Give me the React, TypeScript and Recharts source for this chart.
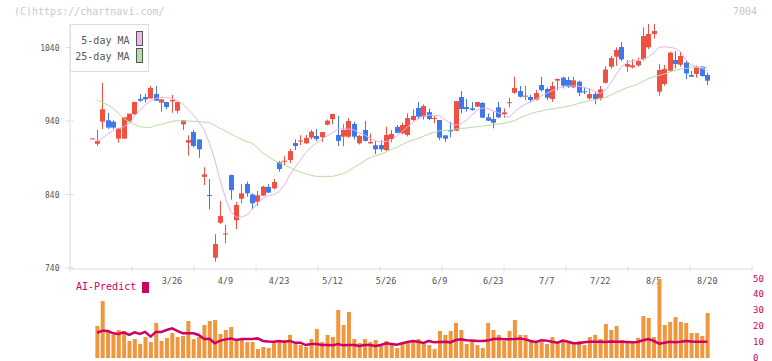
import React from "react";
import { ComposedChart, Bar, Line, XAxis, YAxis } from "recharts";

// ---------- data ----------
const opens = [916, 909, 939, 941, 939, 916, 916, 939, 949.5, 970, 972.7, 970.8, 976.7, 965, 965.8, 966.8, 954, 935.5, 910.5, 925, 915, 864, 839.3, 754, 801.7, 786, 866.5, 805, 834.3, 854.3, 840, 830, 838.4, 850.3, 848.4, 884, 885.5, 887, 910, 913, 909.6, 917.4, 919.6, 918, 935, 942.7, 921, 918.7, 918.7, 936, 909.6, 927.8, 909.6, 907, 907.3, 900.5, 915.5, 932, 923.2, 921, 941.4, 957.7, 946, 952, 943.6, 941.4, 920.5, 927.8, 926.8, 972.7, 959, 957.2, 959.5, 964.5, 945, 942.7, 958.6, 949.5, 965, 978.5, 980.8, 974, 972.7, 969, 989, 983.5, 970, 994.9, 999, 995.8, 985.8, 993.5, 980.4, 970.8, 976.7, 970.8, 992, 1013.9, 1027.5, 1040.7, 1013.9, 1013, 1015.7, 1024, 1040.2, 1058.4, 979.9, 990.3, 1008.5, 1023, 1016.6, 1019.4, 1002.6, 1004, 1014, 1002.6];
const highs = [916.6, 928, 992, 951, 941, 930, 945, 950, 966, 976.7, 976.7, 987.6, 987.6, 969.5, 966, 975.4, 966, 941, 920.5, 928, 915, 877, 861, 786, 831, 798.5, 867, 829.8, 854.3, 857.5, 841.6, 844.8, 852, 854, 861, 885.6, 892, 902, 915, 920.5, 921, 928, 929, 925, 942, 950, 946.8, 935.5, 944, 939, 921, 940, 923, 913, 914, 932.2, 927.8, 934.5, 937.7, 950.4, 956, 965.8, 962.7, 956.8, 946.8, 941.4, 920.5, 938.6, 967, 980.8, 970, 965.8, 966, 966, 950.4, 952.7, 966, 957.2, 971.7, 1000, 987.6, 987.6, 975.4, 982, 1000, 985.8, 993.5, 998, 1000.3, 1000.3, 1000, 995, 985.8, 984, 979.9, 987.6, 1014.8, 1028.4, 1040.2, 1047.5, 1023, 1024, 1026.2, 1067.4, 1072, 1072, 1017.5, 1016.2, 1034.3, 1035.2, 1034.3, 1023, 1008, 1015.3, 1014.8, 1005.8];
const lows = [915.6, 906, 929, 929, 929, 910.5, 916, 937, 948, 966, 965, 970, 967, 952.7, 956, 951.3, 950.4, 927.8, 892.8, 904, 890, 853, 820, 748.6, 800, 773.6, 833, 793, 828, 837, 819.8, 824, 838, 842, 847, 871, 880, 883, 900.5, 907, 909, 915, 912.8, 911.5, 934, 935.5, 906, 905.5, 917, 915, 908, 912, 909, 895, 898.5, 899, 911, 923, 922, 919, 940, 943, 942, 941, 937, 914, 911.5, 917.8, 926, 950.4, 952.7, 954, 959, 944, 940, 930, 944, 944.5, 958.6, 977, 972, 968.6, 965.4, 968, 980, 968.6, 966.3, 982, 984.4, 985, 985, 974, 976.7, 969, 962.7, 968, 991, 1011, 1015, 1021.6, 1007, 1011.6, 1014, 1022, 1038, 1052, 974.5, 988, 1007, 1011.6, 1014, 997, 1000, 999, 1000.3, 989];
const closes = [916.3, 913, 956, 931, 931, 930, 945, 950, 966, 967.7, 969.5, 985, 967.7, 969.5, 959, 968.6, 965.8, 941, 914, 906, 901.5, 867.4, 838, 772.6, 810.7, 787, 846, 825.7, 841.6, 841.6, 828, 839, 850.7, 842.6, 857, 874.7, 886, 899, 906, 913.5, 917, 925.5, 915.5, 925, 940.5, 949.5, 913, 927.8, 940, 918.7, 919.6, 913, 911.4, 901.5, 901.5, 921, 922.3, 924, 934.5, 944, 946.8, 946, 960.4, 942.7, 944, 917.3, 916, 926, 967, 956.3, 956.3, 955, 965.8, 944.5, 940.4, 937.7, 945, 951.8, 965.6, 984.9, 973, 974.5, 968.6, 978, 982, 971.7, 987.6, 997.2, 988, 986.7, 995.4, 978.5, 979.5, 976.7, 969.9, 983, 1010, 1025.7, 1036.6, 1023.9, 1017.5, 1015.7, 1021.6, 1055.6, 1058.4, 1062.4, 1009.4, 1010.7, 1033, 1017.5, 1028.4, 1004.8, 1000.3, 1014, 1001.2, 994.9];
const ma5 = [null, 911.9, 916.4, 922.3, 926.8, 930, 932.3, 936.8, 946, 955, 961.8, 967.2, 970.8, 972.2, 972.2, 970.8, 967.7, 963, 955.9, 948, 939, 927.8, 909.6, 887, 859.7, 834.8, 816.6, 809, 809.4, 812, 819.8, 829, 834.8, 838, 839.8, 843.9, 852.9, 866.5, 877, 887, 897, 904.2, 910.5, 915, 919.6, 924, 928.7, 929.6, 929, 927.8, 924, 921, 916.4, 913.2, 911.4, 912.3, 914, 919.6, 925.5, 932.3, 937.7, 942.7, 946.8, 948, 947.7, 946.8, 941.4, 936.8, 934.5, 936, 941.4, 948, 955, 957.7, 957.2, 954, 951.3, 948, 945, 952.7, 958.6, 962.7, 966.3, 969.5, 974, 977.6, 981.3, 984.4, 986.7, 987.6, 987.6, 987.2, 985.8, 983.5, 980.4, 977.6, 982.2, 992.2, 1004, 1014, 1019.4, 1022, 1023, 1023.9, 1027.5, 1033, 1040.2, 1041, 1040.2, 1038.9, 1034.3, 1023, 1016.2, 1014, 1011.6, 1008.5];
const ma25 = [null, 968.6, 965, 961.8, 957.2, 950.4, 943.6, 939, 935.5, 932.3, 931.4, 931.4, 933.9, 935.5, 937.7, 939.5, 940.4, 940, 940, 939.5, 939, 938.6, 937.7, 934, 930, 926.4, 922.3, 918.7, 915, 911.9, 909.6, 903, 896.5, 891.5, 887, 883.3, 880, 877, 873.3, 870.6, 868.3, 866, 864.7, 864.7, 864.7, 864.7, 866.5, 868.3, 872, 877, 881, 886, 890, 892.8, 895, 897.8, 901.5, 904.2, 907.8, 911.4, 914, 916.4, 919.1, 922.3, 924.6, 926.8, 927.3, 927.8, 929, 930, 930.4, 931.4, 932.3, 933.2, 934, 935, 936, 936.8, 938.6, 940.4, 944.5, 947.3, 950, 952.2, 953.6, 955.4, 956.3, 957.7, 959, 960, 961.8, 964, 965.8, 967.7, 969, 970.4, 972.2, 975.4, 979, 982.2, 985.4, 987.6, 990.3, 994, 997.6, 1000.3, 1002, 1004, 1006.7, 1009, 1010.7, 1011.6, 1012.6, 1013, 1013, 1013];
const volume = [null, 20.3, 36, 16.7, 14.6, 17.7, 17.1, 10.8, 12, 8.9, 13.3, 10.1, 22.2, 10.8, 12.7, 15.8, 13.3, 13.9, 23.4, 12, 13.3, 20.9, 23.4, 24, 15.2, 17.7, 19.6, 10.8, 12, 10.1, 10.1, 5.7, 7, 6.3, 10.1, 10.8, 11.4, 14.6, 8.9, 8.2, 7, 12, 18.4, 10.1, 14.6, 13.3, 30.4, 20.9, 29.1, 12, 9.5, 12, 10.1, 11.4, 7.6, 10.8, 8.9, 6.3, 8.9, 10.1, 10.8, 12, 8.9, 8.2, 5.7, 17.1, 14.6, 17.1, 22.2, 17.7, 8.9, 10.8, 8.2, 6.3, 22.2, 17.7, 14.6, 10.8, 17.1, 24, 14.6, 14.6, 10.8, 10.1, 10.1, 8.9, 13.3, 9.5, 10.8, 9.5, 10.1, 10.8, 8.2, 13.3, 14.6, 12, 21.5, 17.7, 20.3, 11.4, 10.8, 10.1, 12.7, 26.6, 25.3, 13.3, 50, 20.9, 22.8, 25.9, 22.8, 22.2, 15.8, 15.8, 13.9, 28.5];
const aiPredict = [null, 16, 17.3, 17.1, 15.6, 15.2, 16.2, 14.6, 16.2, 15.2, 16.5, 13.5, 16.5, 16.5, 17.7, 18.8, 17.1, 15.6, 15.6, 15.6, 14.6, 12, 12.2, 9.3, 11, 11.8, 12.4, 11.4, 12, 12, 12, 12.4, 10.8, 10.5, 10.3, 10.8, 10.3, 10.8, 9.7, 9.7, 8.2, 8.9, 8.9, 8.2, 8.2, 8, 8.9, 8, 8.2, 8.2, 7.6, 8.2, 8.2, 7.6, 8.2, 9.3, 8.9, 8.4, 9.3, 10.1, 10.8, 10.3, 9.5, 10.8, 9.9, 10.1, 10.3, 9.9, 11.4, 11.8, 11.2, 11, 10.8, 10.8, 11, 12, 12.2, 11.8, 11.8, 12, 12.4, 11.8, 10.8, 10.1, 11.2, 11, 10.3, 9.7, 11, 10.3, 9.3, 9.3, 9.9, 10.3, 10.3, 10.3, 10.1, 10.5, 10.3, 10.3, 10.1, 9.9, 10.1, 11.2, 12, 10.8, 9.1, 9.7, 10.3, 9.9, 10.3, 10.8, 10.5, 10.3, 10.3, 10.3];
const dateLabels = ["3/26", "4/9", "4/23", "5/12", "5/26", "6/9", "6/23", "7/7", "7/22", "8/5", "8/20"];
const dateLabelIndex = [15, 25, 35, 45, 55, 65, 75, 85, 95, 105, 115];
const priceTicks = [740, 840, 940, 1040];
const volTicks = [0, 10, 20, 30, 40, 50];

// ---------- styling ----------
const FONT = "'DejaVu Sans Mono', monospace";
const RED = "#f05040";
const BLUE = "#4078ec";
const AXIS = "#dcdcdc";
const MAGENTA = "#cc0066";
const X_MIN = -4.05;
const X_MAX = 123.35;
const PRICE_MIN = 740;
const PRICE_MAX = 1072;
const GRID_DIVS = 11;
const gridTicks = Array.from({ length: GRID_DIVS + 1 }, (_, k) => X_MIN + (k * (X_MAX - X_MIN)) / GRID_DIVS);

const data = opens.map((o, i) => ({
  i,
  open: o,
  high: highs[i],
  low: lows[i],
  close: closes[i],
  ma5: ma5[i],
  ma25: ma25[i],
  volume: volume[i],
  ai: aiPredict[i],
}));

const Candle = (props: any) => {
  const { x, y, width, height, payload } = props;
  if (x == null || y == null || !payload) return null;
  const { open, close, high, low } = payload;
  const color = close >= open ? RED : BLUE;
  const top = Math.min(y, y + height);
  const h = Math.abs(height);
  const span = high - low;
  const py = (v: number) => (span > 0 ? top + ((high - v) / span) * h : top);
  const cx = Math.round(x + width / 2) + 0.5;
  const bTop = py(Math.max(open, close));
  const bBot = py(Math.min(open, close));
  return (
    <g>
      <line x1={cx} x2={cx} y1={top} y2={top + h} stroke={color} strokeWidth={1} />
      <rect x={cx - 2.5} y={bTop} width={5} height={Math.max(bBot - bTop, 1)} fill={color} />
    </g>
  );
};

const YTick = (props: any) => {
  const { x, y, payload } = props;
  return (
    <g>
      <line x1={x - 4.5} x2={x + 3.5} y1={y} y2={y} stroke={AXIS} strokeWidth={1} />
      <text x={x - 10.5} y={y + 3} textAnchor="end" fontSize={8} fill="#555" fontFamily={FONT}>
        {payload.value}
      </text>
    </g>
  );
};

const GridTick = (props: any) => {
  const { x, y } = props;
  return <line x1={x} x2={x} y1={y - 3} y2={y + 2.5} stroke={AXIS} strokeWidth={1} />;
};

const DateTick = (props: any) => {
  const { x, y, payload } = props;
  const k = dateLabelIndex.indexOf(Math.round(payload.value));
  return (
    <text x={x} y={y + 16} textAnchor="middle" fontSize={8.5} fill="#555" fontFamily={FONT}>
      {k >= 0 ? dateLabels[k] : ""}
    </text>
  );
};

const VolTick = (props: any) => {
  const { x, y, payload } = props;
  return (
    <text x={x + 1} y={y + 2.5} textAnchor="start" fontSize={9} fill={MAGENTA} fontFamily={FONT}>
      {payload.value}
    </text>
  );
};

export default function App() {
  return (
    <div style={{ position: "fixed", left: 0, top: 0, width: 772, height: 361, background: "#fff", overflow: "hidden" }}>
      <div style={{ position: "absolute", left: 0, top: 0 }}>
        <ComposedChart width={772} height={300} data={data} margin={{ top: 24, right: 20, bottom: 30, left: 0 }}>
          <XAxis
            xAxisId="g"
            dataKey="i"
            type="number"
            domain={[X_MIN, X_MAX]}
            allowDataOverflow
            ticks={gridTicks}
            interval={0}
            height={1}
            tickSize={0}
            tickMargin={0}
            tickLine={false}
            axisLine={{ stroke: AXIS }}
            tick={<GridTick />}
          />
          <XAxis
            xAxisId="d"
            dataKey="i"
            type="number"
            domain={[X_MIN, X_MAX]}
            allowDataOverflow
            ticks={dateLabelIndex}
            interval={0}
            height={1}
            tickSize={0}
            tickMargin={0}
            tickLine={false}
            axisLine={false}
            tick={<DateTick />}
          />
          <YAxis
            type="number"
            domain={[PRICE_MIN, PRICE_MAX]}
            allowDataOverflow
            ticks={priceTicks}
            interval={0}
            width={70}
            tickSize={0}
            tickMargin={0}
            tickLine={false}
            axisLine={{ stroke: AXIS }}
            tick={<YTick />}
          />
          <Line xAxisId="g" dataKey="ma25" stroke="#b5dca5" strokeWidth={1} dot={false} isAnimationActive={false} />
          <Line xAxisId="g" dataKey="ma5" stroke="#e8b2e8" strokeWidth={1} dot={false} isAnimationActive={false} />
          <Bar
            xAxisId="g"
            dataKey={(d: any) => [d.low, d.high]}
            barSize={5}
            shape={<Candle />}
            isAnimationActive={false}
          />
        </ComposedChart>
      </div>
      <div style={{ position: "absolute", left: 0, top: 270 }}>
        <ComposedChart width={772} height={91} data={data} margin={{ top: 9, right: 0, bottom: 3, left: 70 }}>
          <XAxis dataKey="i" type="number" domain={[X_MIN, X_MAX]} allowDataOverflow hide />
          <YAxis
            orientation="right"
            type="number"
            domain={[0, 50]}
            allowDataOverflow
            ticks={volTicks}
            interval={0}
            width={20}
            tickSize={0}
            tickMargin={0}
            tickLine={false}
            axisLine={false}
            tick={<VolTick />}
          />
          <Bar dataKey="volume" barSize={4} fill="#f0963c" isAnimationActive={false} />
          <Line dataKey="ai" stroke={MAGENTA} strokeWidth={2.5} dot={false} isAnimationActive={false} />
        </ComposedChart>
      </div>
      <svg
        width={772}
        height={361}
        style={{ position: "absolute", left: 0, top: 0, pointerEvents: "none" }}
      >
        <text x={14} y={15} fontSize={10} fill="#c8c8c8" fontFamily={FONT}>
          (C)https://chartnavi.com/
        </text>
        <text x={757} y={15} fontSize={10} fill="#c8c8c8" fontFamily={FONT} textAnchor="end">
          7004
        </text>
        <rect x={70.5} y={24.5} width={78} height={47} fill="#fff" stroke={AXIS} strokeWidth={1} />
        <text x={129.5} y={44} fontSize={10} fill="#555" fontFamily={FONT} textAnchor="end">
          5-day MA
        </text>
        <text x={129.5} y={60} fontSize={10} fill="#555" fontFamily={FONT} textAnchor="end">
          25-day MA
        </text>
        <rect x={136.5} y={31.5} width={6} height={14} fill="#ebb8eb" stroke="#555" strokeWidth={1} />
        <rect x={136.5} y={48.5} width={6} height={14} fill="#b8dca8" stroke="#555" strokeWidth={1} />
        <text x={76} y={290} fontSize={10} fill={MAGENTA} fontFamily={FONT}>
          AI-Predict
        </text>
        <rect x={142} y={282} width={7} height={11} fill={MAGENTA} />
      </svg>
    </div>
  );
}
